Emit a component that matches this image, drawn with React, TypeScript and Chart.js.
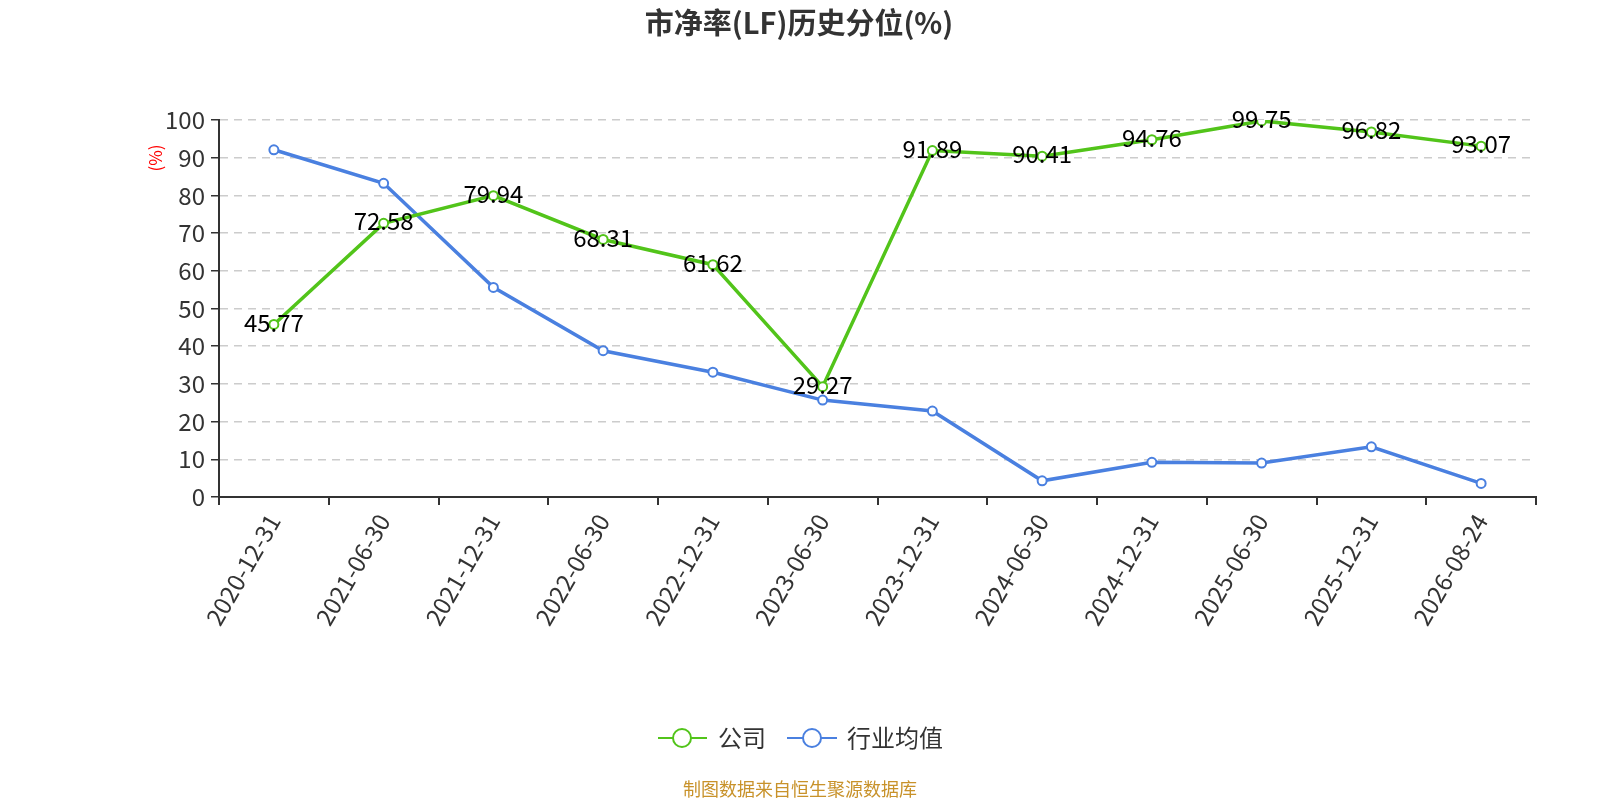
import { Chart, registerables } from 'chart.js'
import { useEffect, useRef } from 'react'

Chart.register(...registerables)

const FONT = '"Noto Sans CJK SC", "Noto Sans", sans-serif'

const dates = [
  '2020-12-31', '2021-06-30', '2021-12-31', '2022-06-30', '2022-12-31', '2023-06-30',
  '2023-12-31', '2024-06-30', '2024-12-31', '2025-06-30', '2025-12-31', '2026-08-24',
]
const companyValues = [45.77, 72.58, 79.94, 68.31, 61.62, 29.27, 91.89, 90.41, 94.76, 99.75, 96.82, 93.07]
const industryValues = [92.1, 83.2, 55.6, 38.8, 33.1, 25.7, 22.8, 4.3, 9.2, 9.0, 13.3, 3.6]
const seriesNames = ['公司', '行业均值']
const seriesColors = ['#52c41a', '#4a80e0']

const decorPlugin = {
  id: 'decor',
  afterDatasetsDraw(chart: Chart) {
    const ctx = chart.ctx
    ctx.save()
    // value labels on the company series
    const meta = chart.getDatasetMeta(0)
    ctx.font = `24px ${FONT}`
    ctx.fillStyle = '#000'
    ctx.textAlign = 'center'
    ctx.textBaseline = 'middle'
    meta.data.forEach((pt: any, i: number) => {
      ctx.fillText(companyValues[i].toFixed(2), pt.x, pt.y - 2)
    })

    // title
    ctx.font = `bold 29px ${FONT}`
    ctx.fillStyle = '#333'
    ctx.fillText('市净率(LF)历史分位(%)', 799, 23)

    // y axis unit
    ctx.save()
    ctx.translate(156, 158)
    ctx.rotate(-Math.PI / 2)
    ctx.font = `17px ${FONT}`
    ctx.fillStyle = '#ff0000'
    ctx.fillText('(%)', 0, 0)
    ctx.restore()

    // legend
    const items = [
      { x0: 658, x1: 707, cx: 682, tx: 718 },
      { x0: 787, x1: 837, cx: 812, tx: 847 },
    ]
    const ly = 738
    items.forEach((it, i) => {
      ctx.strokeStyle = seriesColors[i]
      ctx.lineWidth = 2
      ctx.beginPath()
      ctx.moveTo(it.x0, ly)
      ctx.lineTo(it.x1, ly)
      ctx.stroke()
      ctx.beginPath()
      ctx.arc(it.cx, ly, 9, 0, Math.PI * 2)
      ctx.fillStyle = '#fff'
      ctx.fill()
      ctx.stroke()
    })
    ctx.font = `24px ${FONT}`
    ctx.fillStyle = '#333'
    ctx.textAlign = 'left'
    ctx.fillText(seriesNames[0], items[0].tx, ly)
    ctx.fillText(seriesNames[1], items[1].tx, ly)

    // source note
    ctx.textAlign = 'center'
    ctx.font = `18px ${FONT}`
    ctx.fillStyle = '#c8922a'
    ctx.fillText('制图数据来自恒生聚源数据库', 800, 789)
    ctx.restore()
  },
}

export default function App() {
  const canvasRef = useRef<HTMLCanvasElement>(null)
  const chartRef = useRef<Chart<'line'> | null>(null)

  useEffect(() => {
    if (!canvasRef.current) return
    chartRef.current?.destroy()
    const ctx = canvasRef.current.getContext('2d')
    if (!ctx) return

    const lineStyle = (color: string) => ({
      borderColor: color,
      backgroundColor: '#fff',
      borderWidth: 3.5,
      pointRadius: 4.5,
      pointBorderWidth: 2,
      pointBackgroundColor: '#fff',
      pointBorderColor: color,
      tension: 0,
    })

    chartRef.current = new Chart(ctx, {
      type: 'line',
      data: {
        labels: dates,
        datasets: [
          { label: seriesNames[0], data: companyValues, ...lineStyle(seriesColors[0]) },
          { label: seriesNames[1], data: industryValues, ...lineStyle(seriesColors[1]) },
        ],
      },
      options: {
        responsive: false,
        animation: false,
        events: [],
        layout: { padding: { top: 120, right: 64, left: 0, bottom: 0 } },
        plugins: {
          legend: { display: false },
          title: { display: false },
          tooltip: { enabled: false },
        },
        scales: {
          x: {
            offset: true,
            afterFit: (s: any) => { s.height = 303 },
            grid: {
              offset: true,
              drawOnChartArea: false,
              drawTicks: true,
              tickLength: 8,
              tickColor: '#333',
              lineWidth: 2,
            },
            border: { color: '#333', width: 2 },
            ticks: {
              color: '#333',
              font: { family: FONT, size: 24 },
              maxRotation: 60,
              minRotation: 60,
              autoSkip: false,
              padding: 4,
            },
          },
          y: {
            min: 0,
            max: 100,
            afterFit: (s: any) => { s.width = 219 },
            grid: {
              color: '#cccccc',
              lineWidth: 1.5,
              tickColor: '#333',
              tickLength: 8,
              tickBorderDash: [],
            },
            border: { color: '#333', width: 2, dash: [8, 6] },
            ticks: {
              stepSize: 10,
              color: '#333',
              font: { family: FONT, size: 24 },
              padding: 6,
            },
          },
        },
      },
      plugins: [decorPlugin],
    })

    return () => {
      chartRef.current?.destroy()
      chartRef.current = null
    }
  }, [])

  return (
    <div style={{ position: 'fixed', left: 0, top: 0, width: 1600, height: 800, background: '#fff' }}>
      <canvas ref={canvasRef} width={1600} height={800} />
    </div>
  )
}
